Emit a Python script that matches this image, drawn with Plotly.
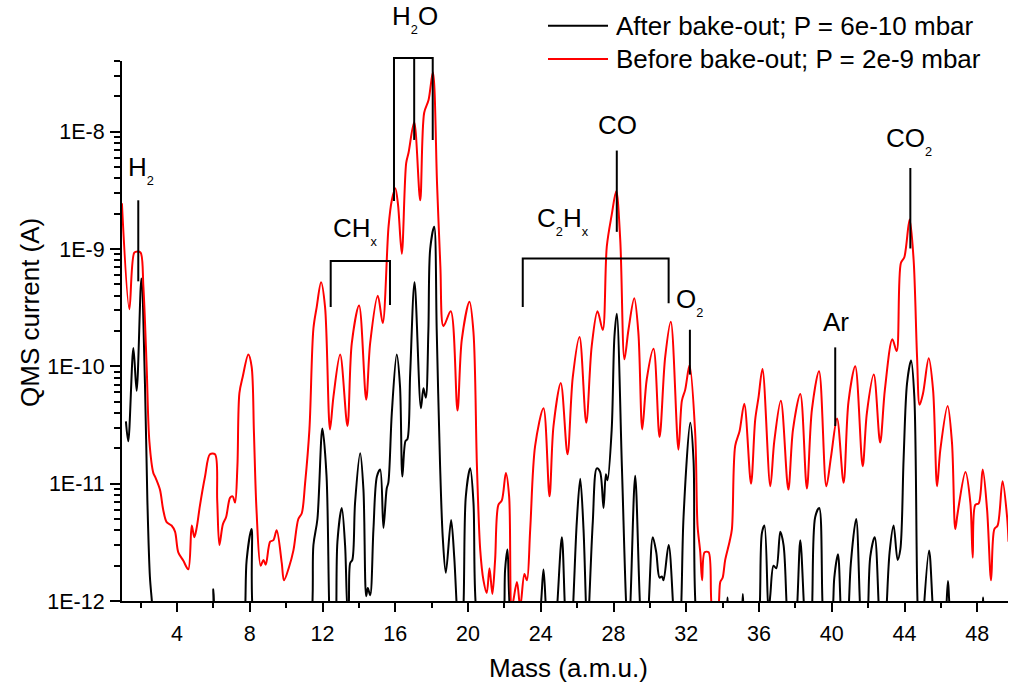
import math
import plotly.graph_objects as go

# ---------------- data ----------------
# (mass in a.m.u., QMS current in A)
AFTER_BAKEOUT = [
    (1.19, 3.4e-11), (1.32, 2.3e-11), (1.60, 1.43e-10), (1.78, 6.2e-11), (2.04, 5.6e-10),
    (2.24, 6.8e-11), (2.37, 7.2e-12), (2.51, 1.6e-12), (2.64, 9e-13), (3.0, 1e-13),
    (5.85, 5e-13), (6.0, 1.26e-12), (6.12, 5e-13), (7.0, 1e-13), (7.70, 6e-13),
    (7.83, 2.24e-12), (8.10, 4.1e-12), (8.25, 6e-13), (10.0, 1e-13), (11.35, 6e-13),
    (11.50, 3.0e-12), (11.72, 5.0e-12), (11.99, 2.95e-11), (12.22, 1.17e-11), (12.40, 6e-13),
    (12.58, 2.5e-13), (12.74, 6e-13), (12.82, 3.2e-12), (13.06, 6.2e-12), (13.24, 3.0e-12),
    (13.38, 8e-13), (13.44, 9e-13), (13.52, 2.1e-12), (13.64, 2.24e-12), (13.79, 6.9e-12),
    (14.07, 1.82e-11), (14.25, 8.9e-12), (14.40, 1.1e-12), (14.49, 1.29e-12), (14.62, 1.12e-12),
    (14.80, 4.1e-12), (14.99, 1.15e-11), (15.17, 1.32e-11), (15.35, 4.2e-12), (15.53, 9.1e-12),
    (15.62, 1.02e-11), (15.81, 4.0e-11), (16.08, 1.26e-10), (16.26, 6.8e-11), (16.39, 1.15e-11),
    (16.56, 2.3e-11), (16.67, 2.4e-11), (16.82, 8.7e-11), (17.06, 5.2e-10), (17.41, 4.4e-11),
    (17.55, 6.5e-11), (17.68, 5.4e-11), (17.82, 2.0e-10), (17.92, 1.0e-9), (18.14, 1.55e-9),
    (18.28, 2.0e-10), (18.46, 1.5e-11), (18.61, 3.5e-12), (18.78, 1.74e-12), (19.07, 4.9e-12),
    (19.24, 2.4e-12), (19.38, 9e-13), (19.56, 3e-13), (19.75, 9e-13), (19.88, 7.8e-12),
    (20.12, 1.35e-11), (20.30, 6.9e-12), (20.43, 9e-13), (21.2, 1e-13), (21.95, 6e-13),
    (22.04, 1.86e-12), (22.17, 2.75e-12), (22.31, 8e-13), (23.1, 1e-13), (23.97, 8e-13),
    (24.15, 1.86e-12), (24.30, 8e-13), (24.6, 2.5e-13), (24.88, 8e-13), (25.16, 3.5e-12),
    (25.34, 8e-13), (25.55, 2.5e-13), (25.76, 8e-13), (25.98, 4.7e-12), (26.17, 1.1e-11),
    (26.35, 4.1e-12), (26.50, 8e-13), (26.57, 5e-13), (26.64, 8e-13), (26.86, 4.7e-12),
    (27.08, 1.35e-11), (27.26, 1.26e-11), (27.45, 6.2e-12), (27.58, 1.2e-11), (27.67, 1.07e-11),
    (27.90, 2.9e-11), (28.05, 1.78e-10), (28.18, 2.8e-10), (28.46, 1.41e-11), (28.70, 9e-13),
    (28.81, 5e-13), (28.92, 9e-13), (29.19, 1.17e-11), (29.46, 9e-13), (29.7, 2.5e-13),
    (29.93, 9e-13), (30.16, 3.5e-12), (30.35, 2.6e-12), (30.53, 1.58e-12), (30.66, 1.62e-12),
    (30.75, 1.5e-12), (31.03, 3.0e-12), (31.30, 8e-13), (31.5, 2.5e-13), (31.71, 8e-13),
    (31.85, 5.2e-12), (32.22, 3.3e-11), (32.40, 1.58e-11), (32.53, 8e-13), (33.3, 1e-13),
    (34.20, 6e-13), (34.27, 1.07e-12), (34.34, 6e-13), (34.7, 1e-13), (35.05, 6e-13),
    (35.11, 1.15e-12), (35.18, 6e-13), (35.6, 1e-13), (36.03, 8e-13), (36.16, 3.8e-12),
    (36.30, 4.4e-12), (36.52, 8e-13), (36.62, 1.12e-12), (36.80, 2.0e-12), (36.95, 1.9e-12),
    (37.17, 3.9e-12), (37.35, 3.0e-12), (37.54, 8e-13), (37.8, 2.5e-13), (38.08, 8e-13),
    (38.27, 3.3e-12), (38.49, 8e-13), (38.7, 2.5e-13), (38.91, 8e-13), (39.09, 5.2e-12),
    (39.31, 6.2e-12), (39.51, 8e-13), (39.8, 2.5e-13), (40.07, 9e-13), (40.14, 1.58e-12),
    (40.34, 2.5e-12), (40.50, 8e-13), (40.7, 2.5e-13), (40.92, 8e-13), (41.05, 2.1e-12),
    (41.34, 5.0e-12), (41.57, 8e-13), (41.8, 2.5e-13), (41.99, 8e-13), (42.12, 2.4e-12),
    (42.36, 3.5e-12), (42.60, 8e-13), (42.8, 2.5e-13), (43.00, 8e-13), (43.18, 2.6e-12),
    (43.40, 4.4e-12), (43.62, 2.24e-12), (43.77, 2.75e-12), (43.95, 1.62e-11), (44.14, 7.2e-11),
    (44.36, 1.12e-10), (44.54, 5.5e-11), (44.72, 9e-13), (44.9, 2.5e-13), (45.05, 8e-13),
    (45.35, 2.7e-12), (45.57, 8e-13), (46.0, 1e-13), (46.29, 8e-13), (46.39, 1.48e-12),
    (46.51, 8e-13), (47.5, 1e-13), (48.26, 6e-13), (48.32, 1.07e-12), (48.38, 6e-13),
    (49.0, 1e-13), (49.72, 1e-13),
]

BEFORE_BAKEOUT = [
    (0.97, 2.45e-9), (1.38, 3.07e-10), (1.65, 9.3e-10), (1.82, 9.5e-10), (2.0, 9.3e-10),
    (2.15, 4.8e-10), (2.33, 1.0e-10), (2.48, 2.3e-11), (2.70, 1.23e-11), (2.79, 1.15e-11),
    (3.06, 8.9e-12), (3.24, 6.0e-12), (3.43, 4.7e-12), (3.70, 4.4e-12), (3.89, 3.9e-12),
    (4.07, 2.6e-12), (4.35, 2.2e-12), (4.62, 1.86e-12), (4.81, 4.4e-12), (4.95, 3.5e-12),
    (5.08, 4.2e-12), (5.26, 6.5e-12), (5.54, 1.15e-11), (5.81, 1.78e-11), (6.09, 1.78e-11),
    (6.21, 7.2e-12), (6.33, 3.0e-12), (6.52, 4.5e-12), (6.70, 5.2e-12), (6.92, 7.6e-12),
    (7.06, 7.8e-12), (7.19, 6.9e-12), (7.32, 1.41e-11), (7.43, 5.9e-11), (7.61, 8.1e-11),
    (7.92, 1.26e-10), (8.10, 1.0e-10), (8.23, 2.7e-11), (8.37, 6.0e-12), (8.60, 2.0e-12),
    (8.75, 2.24e-12), (8.88, 2.04e-12), (9.12, 3.2e-12), (9.30, 3.3e-12), (9.48, 4.0e-12),
    (9.76, 2.1e-12), (9.88, 1.5e-12), (10.16, 1.95e-12), (10.40, 2.7e-12), (10.67, 5.0e-12),
    (10.86, 5.6e-12), (11.04, 1.0e-11), (11.28, 2.9e-11), (11.50, 2.1e-10), (11.68, 3.2e-10),
    (11.92, 5.2e-10), (12.14, 3.2e-10), (12.41, 2.9e-11), (12.60, 5.5e-11), (12.97, 1.26e-10),
    (13.37, 3.1e-11), (13.61, 1.58e-10), (14.01, 3.3e-10), (14.40, 5.2e-11), (14.62, 1.58e-10),
    (15.04, 4.0e-10), (15.31, 2.34e-10), (15.63, 1.55e-9), (15.81, 2.6e-9), (16.00, 3.3e-9),
    (16.15, 2.4e-9), (16.36, 9.1e-10), (16.60, 5.4e-9), (16.73, 6.6e-9), (17.04, 1.2e-8),
    (17.37, 2.6e-9), (17.59, 1.45e-8), (17.83, 1.86e-8), (18.07, 3.2e-8), (18.30, 3.5e-9),
    (18.48, 7.1e-10), (18.65, 2.2e-10), (19.05, 2.95e-10), (19.42, 4.2e-11), (19.66, 1.7e-10),
    (20.08, 3.55e-10), (20.30, 1.95e-10), (20.49, 1.41e-11), (20.67, 2.75e-12), (20.85, 1.5e-12),
    (21.03, 1.17e-12), (21.18, 1.9e-12), (21.34, 1.15e-12), (21.49, 2.24e-12), (21.67, 6.6e-12),
    (21.86, 7.2e-12), (22.08, 1.23e-11), (22.26, 7.8e-12), (22.41, 8.9e-13), (22.69, 1.45e-12),
    (22.87, 8.9e-13), (23.10, 1.7e-12), (23.24, 1.5e-12), (23.42, 4.1e-12), (23.69, 2.1e-11),
    (24.15, 4.4e-11), (24.48, 7.8e-12), (24.70, 3.1e-11), (25.10, 7.2e-11), (25.47, 1.78e-11),
    (25.76, 8.1e-11), (26.13, 1.78e-10), (26.50, 3.3e-11), (26.80, 1.48e-10), (27.12, 2.95e-10),
    (27.41, 2.04e-10), (27.63, 1.05e-9), (27.90, 1.95e-9), (28.15, 3.1e-9), (28.37, 1.2e-9),
    (28.60, 1.15e-10), (28.82, 2.04e-10), (29.14, 3.8e-10), (29.37, 1.9e-10), (29.58, 2.9e-11),
    (29.83, 7.8e-11), (30.20, 1.41e-10), (30.53, 2.5e-11), (30.84, 1.2e-10), (31.15, 2.4e-10),
    (31.57, 1.95e-11), (31.76, 5.1e-11), (31.94, 6.3e-11), (32.18, 1.02e-10), (32.49, 2.7e-11),
    (32.62, 4.4e-12), (32.77, 2.6e-12), (32.87, 1.5e-12), (33.01, 2.6e-12), (33.23, 2.6e-12),
    (33.47, 8e-13), (33.70, 8e-13), (33.87, 1.45e-12), (34.00, 1.58e-12), (34.14, 2.24e-12),
    (34.38, 3.2e-12), (34.51, 4.1e-12), (34.69, 2.1e-11), (34.93, 2.8e-11), (35.19, 4.8e-11),
    (35.56, 1.0e-11), (35.79, 3.5e-11), (35.97, 5.4e-11), (36.19, 9.5e-11), (36.62, 9.5e-12),
    (36.84, 2.3e-11), (37.20, 5.1e-11), (37.61, 8.9e-12), (37.87, 2.9e-11), (38.27, 5.8e-11),
    (38.63, 9.1e-12), (38.91, 4.3e-11), (39.30, 9.1e-11), (39.70, 9.5e-12), (39.96, 1.7e-11),
    (40.29, 3.6e-11), (40.65, 1.02e-11), (40.92, 5.0e-11), (41.29, 1.0e-10), (41.70, 1.41e-11),
    (41.93, 4.0e-11), (42.31, 8.5e-11), (42.66, 2.24e-11), (42.92, 6.3e-11), (43.33, 1.7e-10),
    (43.57, 1.35e-10), (43.80, 7.6e-10), (43.99, 8.5e-10), (44.28, 1.78e-9), (44.50, 8.1e-10),
    (44.69, 1.2e-10), (44.83, 4.7e-11), (45.02, 5.9e-11), (45.33, 1.17e-10), (45.57, 6.3e-11),
    (45.79, 9.5e-12), (45.97, 1.95e-11), (46.37, 4.6e-11), (46.61, 2.24e-11), (46.79, 4.1e-12),
    (46.92, 5.6e-12), (47.35, 1.26e-11), (47.62, 6.9e-12), (47.75, 2.34e-12), (47.89, 6.6e-12),
    (48.08, 6.8e-12), (48.30, 1.32e-11), (48.54, 6.0e-12), (48.76, 1.5e-12), (48.94, 4.1e-12),
    (49.12, 4.4e-12), (49.39, 1.05e-11), (49.64, 5.2e-12), (49.72, 3.2e-12),
]

after_mass = [p[0] for p in AFTER_BAKEOUT]
after_current = [p[1] for p in AFTER_BAKEOUT]
before_mass = [p[0] for p in BEFORE_BAKEOUT]
before_current = [p[1] for p in BEFORE_BAKEOUT]

series_names = ["After bake-out; P = 6e-10 mbar", "Before bake-out; P = 2e-9 mbar"]
series_colors = ["#000000", "#ff0000"]

x_tick_vals = [4, 8, 12, 16, 20, 24, 28, 32, 36, 40, 44, 48]
x_minor_vals = [2, 6, 10, 14, 18, 22, 26, 30, 34, 38, 42, 46]
y_tick_vals = [1e-12, 1e-11, 1e-10, 1e-9, 1e-8]
y_tick_text = ["1E-12", "1E-11", "1E-10", "1E-9", "1E-8"]
y_minor_vals = [k * 10.0 ** e for e in range(-12, -8) for k in range(2, 10)] + [2e-8, 3e-8, 4e-8]

# single-peak markers: (label, mass, line top current, line bottom current, label mass, label current)
PEAK_MARKS = [
    ("H<sub><sub>2</sub></sub>", 1.87, 2.6e-9, 5.3e-10, 2.02, 4.7e-9),
    ("CO", 28.18, 6.9e-9, 1.4e-9, 28.2, 1.135e-8),
    ("O<sub><sub>2</sub></sub>", 32.2, 2.05e-10, 8.5e-11, 32.16, 3.5e-10),
    ("Ar", 40.19, 1.45e-10, 3.1e-11, 40.24, 2.37e-10),
    ("CO<sub><sub>2</sub></sub>", 44.32, 4.9e-9, 1.01e-9, 44.26, 8.3e-9),
]
# bracket markers: (label, leg masses, bracket top current, leg bottom currents, label mass, label current)
GROUP_MARKS = [
    ("H<sub><sub>2</sub></sub>O", [15.93, 17.04, 18.06], 4.25e-8, [2.56e-9, 8.5e-9, 8.5e-9], 17.08, 9.06e-8),
    ("CH<sub><sub>x</sub></sub>", [12.45, 15.71], 7.9e-10, [3.2e-10, 3.33e-10], 13.81, 1.41e-9),
    ("C<sub><sub>2</sub></sub>H<sub><sub>x</sub></sub>", [23.01, 31.03], 8.3e-10, [3.2e-10, 3.45e-10], 25.2, 1.73e-9),
]

# ---------------- figure ----------------
X_RANGE = [0.975, 49.69]
Y_RANGE = [1e-12, 4e-8]
YL = [math.log10(Y_RANGE[0]), math.log10(Y_RANGE[1])]


def px(m):
    return (m - X_RANGE[0]) / (X_RANGE[1] - X_RANGE[0])


def py(v):
    return (math.log10(v) - YL[0]) / (YL[1] - YL[0])


FONT = "Liberation Sans, Arial, sans-serif"

fig = go.Figure()
for xs, ys, name, col in [(after_mass, after_current, series_names[0], series_colors[0]),
                          (before_mass, before_current, series_names[1], series_colors[1])]:
    fig.add_trace(go.Scatter(x=xs, y=ys, mode="lines", name=name,
                             line=dict(color=col, width=2, shape="spline", smoothing=0.9),
                             showlegend=False))

shapes = []
annotations = []
LW = dict(color="black", width=2)
for label, m, top, bot, lm, lv in PEAK_MARKS:
    shapes.append(dict(type="line", xref="paper", yref="paper", x0=px(m), x1=px(m),
                       y0=py(top), y1=py(bot), line=LW))
    annotations.append(dict(text=label, xref="paper", yref="paper", x=px(lm), y=py(lv),
                            xanchor="center", yanchor="middle", showarrow=False,
                            font=dict(size=26, color="black", family=FONT)))
for label, legs, top, bots, lm, lv in GROUP_MARKS:
    path = "M {:.5f},{:.5f} L {:.5f},{:.5f} L {:.5f},{:.5f} L {:.5f},{:.5f}".format(
        px(legs[0]), py(bots[0]), px(legs[0]), py(top), px(legs[-1]), py(top), px(legs[-1]), py(bots[-1]))
    shapes.append(dict(type="path", xref="paper", yref="paper", path=path, line=LW))
    for m, b in zip(legs[1:-1], bots[1:-1]):
        shapes.append(dict(type="line", xref="paper", yref="paper", x0=px(m), x1=px(m),
                           y0=py(top), y1=py(b), line=LW))
    annotations.append(dict(text=label, xref="paper", yref="paper", x=px(lm), y=py(lv),
                            xanchor="center", yanchor="middle", showarrow=False,
                            font=dict(size=26, color="black", family=FONT)))

# legend (drawn manually to match sample length)
PLOT_W, PLOT_H = 886.0, 540.0
leg_rows_y = [1 + (61 - 25.7) / PLOT_H, 1 + (61 - 59) / PLOT_H]
for name, col, ly in zip(series_names, series_colors, leg_rows_y):
    shapes.append(dict(type="line", xref="paper", yref="paper", x0=(548 - 122) / PLOT_W,
                       x1=(608 - 122) / PLOT_W, y0=ly, y1=ly, line=dict(color=col, width=2)))
    annotations.append(dict(text=name, xref="paper", yref="paper", x=(614 - 122) / PLOT_W, y=ly,
                            xanchor="left", yanchor="middle", showarrow=False,
                            font=dict(size=26, color="black", family=FONT)))

# axis titles
annotations.append(dict(text="Mass (a.m.u.)", xref="paper", yref="paper", x=(568 - 122) / PLOT_W,
                        y=(601 - 668) / PLOT_H, xanchor="center", yanchor="middle", showarrow=False,
                        font=dict(size=26, color="black", family=FONT)))
annotations.append(dict(text="QMS current (A)", xref="paper", yref="paper", x=(30 - 122) / PLOT_W,
                        y=(601 - 313) / PLOT_H, xanchor="center", yanchor="middle", textangle=-90,
                        showarrow=False, font=dict(size=26, color="black", family=FONT)))

fig.update_layout(
    width=1009, height=686,
    margin=dict(l=122, r=1, t=61, b=85),
    paper_bgcolor="white", plot_bgcolor="white",
    font=dict(family=FONT, color="black"),
    shapes=shapes, annotations=annotations,
    showlegend=False,
)
fig.update_xaxes(
    range=X_RANGE, showgrid=False, zeroline=False, showline=True, linecolor="black", linewidth=2,
    ticks="outside", tickvals=x_tick_vals, ticklen=9, tickwidth=2, tickcolor="black",
    tickfont=dict(size=21.5, color="black", family=FONT), ticklabelstandoff=3,
    minor=dict(tickvals=x_minor_vals, ticks="outside", ticklen=5, tickwidth=2, tickcolor="black", showgrid=False),
)
fig.update_yaxes(
    type="log", range=YL, showgrid=False, zeroline=False, showline=True, linecolor="black", linewidth=2,
    ticks="outside", tickvals=y_tick_vals, ticktext=y_tick_text, ticklen=10, tickwidth=2, tickcolor="black",
    tickfont=dict(size=21.5, color="black", family=FONT), ticklabelstandoff=1,
    minor=dict(tickvals=y_minor_vals, ticks="outside", ticklen=6, tickwidth=2, tickcolor="black", showgrid=False),
)

fig.write_html("out.html")
